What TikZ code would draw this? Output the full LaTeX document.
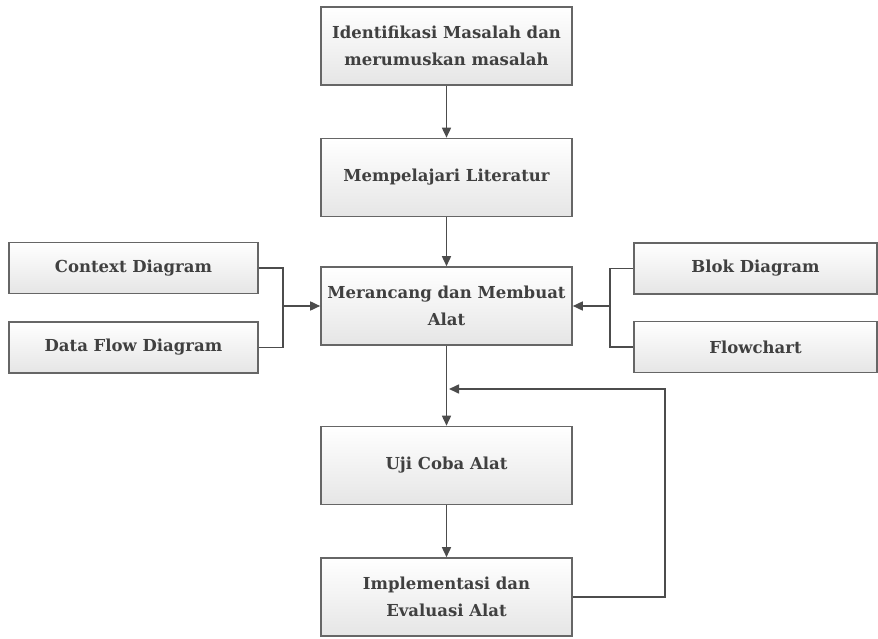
\documentclass[tikz,border=0pt]{standalone}
\usepackage{fontspec}
\setmainfont{DejaVu Serif}
\usetikzlibrary{positioning, calc, arrows.meta}

\begin{document}
\begin{tikzpicture}[
    x=1pt, y=-1pt,
    stepbox/.style={rectangle, draw=black!60, line width=1.6pt, top color=white, bottom color=black!10,
        minimum width=251pt, minimum height=78pt, align=center, text=black!75, font=\bfseries\fontsize{16.5}{27}\selectfont},
    sidebox/.style={stepbox, minimum height=51pt, minimum width=249pt},
    line/.style={draw=black!70, line width=1.6pt},
    arrow/.style={line, -{Triangle[length=10pt, width=9pt]}}
]
    \useasboundingbox (0,0) rectangle (878,639);

    \node[stepbox] (ident) at (446.5, 46) {Identifikasi Masalah dan\\merumuskan masalah};
    \node[stepbox] (lit) at (446.5, 177.5) {Mempelajari Literatur};
    \node[stepbox] (rancang) at (446.5, 306) {Merancang dan Membuat\\Alat};
    \node[stepbox] (uji) at (446.5, 465.5) {Uji Coba Alat};
    \node[stepbox] (impl) at (446.5, 597) {Implementasi dan\\Evaluasi Alat};

    \node[sidebox] (context) at (133.5, 268) {Context Diagram};
    \node[sidebox] (dfd) at (133.5, 347.5) {Data Flow Diagram};
    \node[sidebox, minimum width=243pt] (blok) at (755.5, 268.5) {Blok Diagram};
    \node[sidebox, minimum width=243pt] (flow) at (755.5, 347) {Flowchart};

    \coordinate (ljoin) at (283, 306);
    \coordinate (rjoin) at (610, 306);
    \coordinate (loop) at (665, 389);
    \coordinate (fback) at (449, 389);

    \draw[arrow] (ident) -- (lit);
    \draw[arrow] (lit) -- (rancang);
    \draw[arrow] (rancang) -- (uji);
    \draw[arrow] (uji) -- (impl);

    \draw[line] (context.east) -| (ljoin) |- (dfd.east);
    \draw[arrow] (ljoin) -- (rancang.west);
    \draw[line] (blok.west) -| (rjoin) |- (flow.west);
    \draw[arrow] (rjoin) -- (rancang.east);

    \draw[arrow] (impl.east) -| (loop) -- (fback);
\end{tikzpicture}
\end{document}
